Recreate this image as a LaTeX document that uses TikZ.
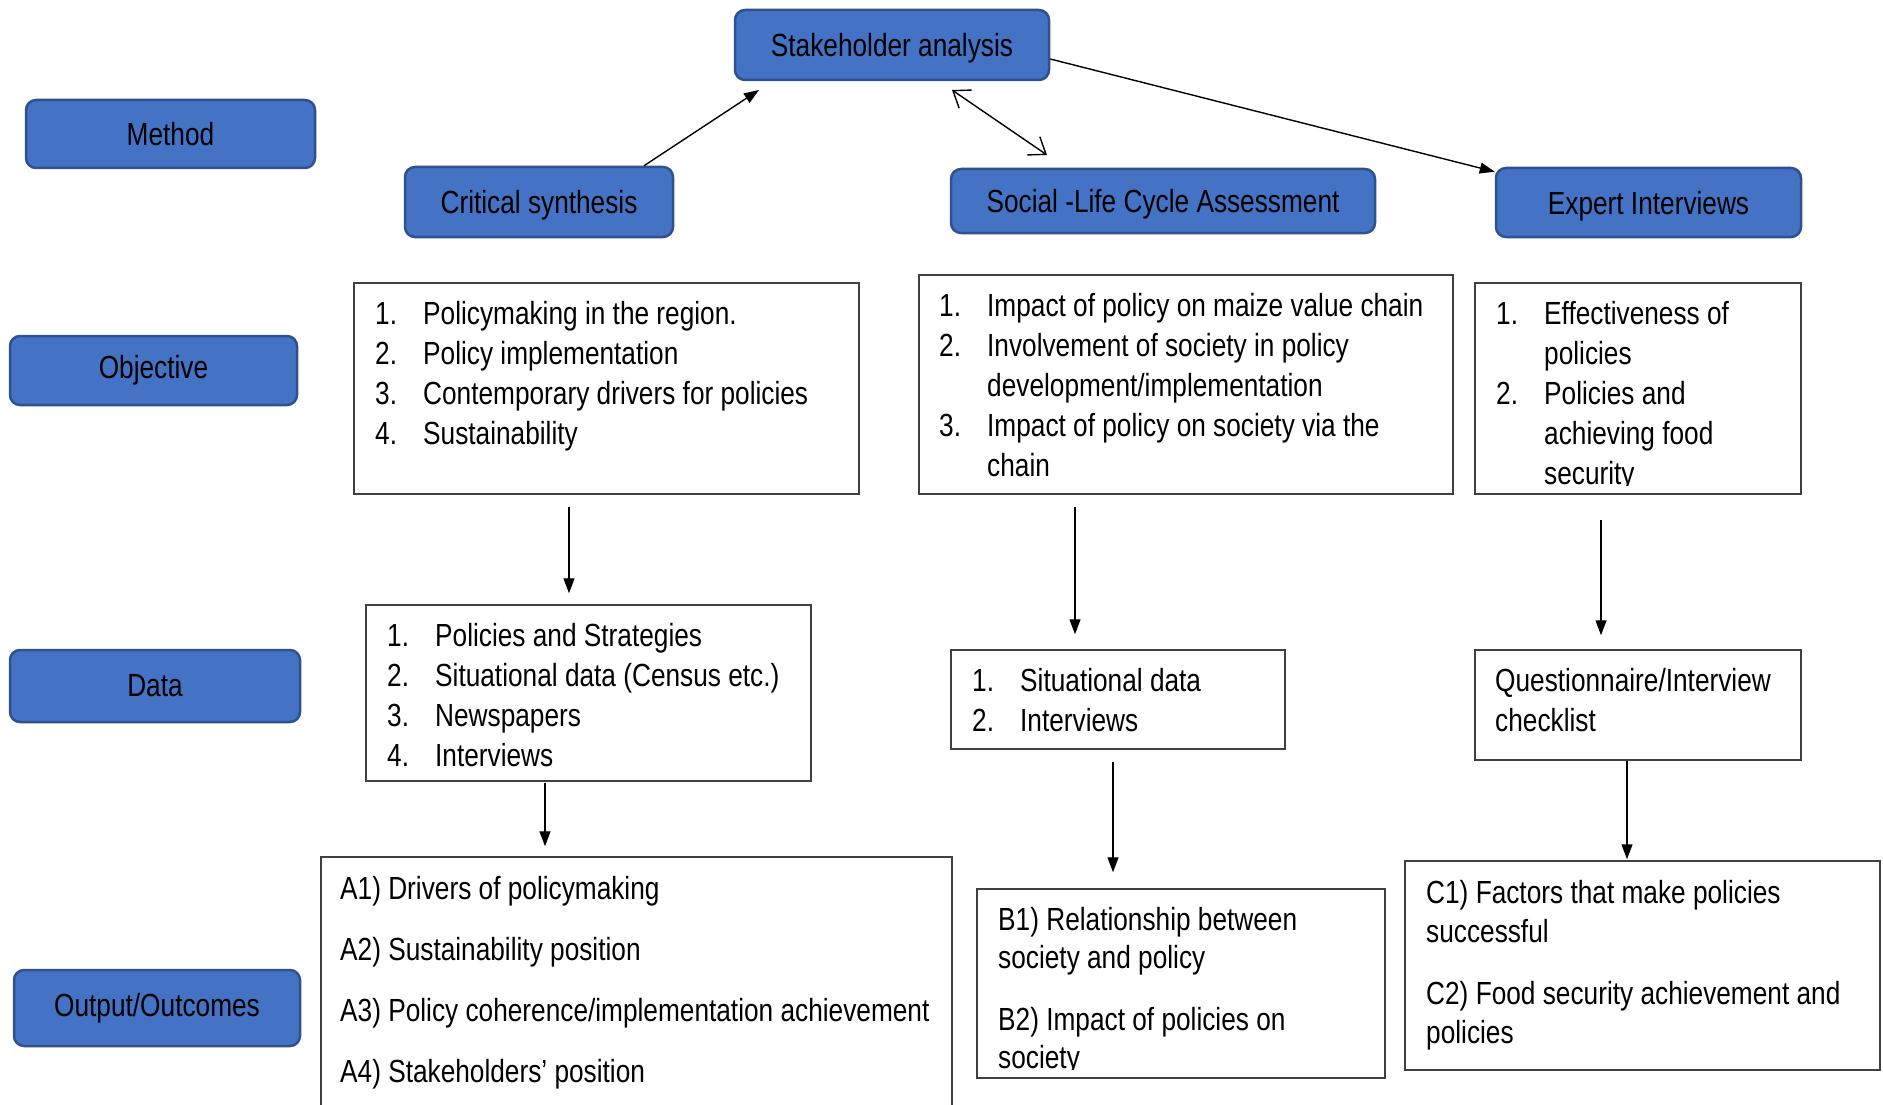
\documentclass[tikz,border=0pt]{standalone}
\usepackage{fontspec}
\setmainfont{Liberation Sans}[FakeStretch=0.82]
\usetikzlibrary{arrows.meta}
\definecolor{boxblue}{HTML}{4472C4}
\definecolor{boxedge}{HTML}{2F528F}
% number column of the numbered lists
\newcommand\itm[1]{\makebox[48pt][l]{#1}}

\begin{document}
\begin{tikzpicture}[x=1pt,y=-1pt,
  lbl/.style={draw=boxedge, fill=boxblue, line width=2.5pt, rounded corners=10pt,
              inner sep=0pt, font=\fontsize{32}{40}\selectfont},
  mlbl/.style={lbl, text depth=0pt},
  panel/.style={draw=black!75, line width=1.5pt, inner sep=0pt},
  txt/.style={anchor=base west, inner sep=0pt, font=\fontsize{32}{40}\selectfont},
  arr/.style={line width=1.4pt, -{Triangle[length=15pt,width=11pt]}},
  dbl/.style={line width=1.4pt,
              {Straight Barb[length=15pt,width=22pt]}-{Straight Barb[length=15pt,width=22pt]}},
]
\clip (0,0) rectangle (1883,1105);
\fill[white] (0,0) rectangle (1883,1105);

% ---- row labels ----
\node[lbl, minimum width=289pt, minimum height=68pt] (method) at (170.5,134) {Method};
\node[lbl, minimum width=287pt, minimum height=69pt] (objective) at (153.5,370.5) {Objective};
\node[lbl, minimum width=290pt, minimum height=72pt] (data) at (155,686) {Data};
\node[lbl, minimum width=286pt, minimum height=76pt] (output) at (157,1008) {Output/Outcomes};

% ---- methods ----
\node[mlbl, minimum width=314pt, minimum height=70pt] (sh) at (892,45) {Stakeholder analysis};
\node[mlbl, minimum width=268pt, minimum height=70pt] (crit) at (539,202) {Critical synthesis};
\node[mlbl, minimum width=424pt, minimum height=64pt] (slca) at (1163,201) {Social -Life Cycle Assessment};
\node[mlbl, minimum width=305pt, minimum height=69pt] (expert) at (1648.5,202.5) {Expert Interviews};

% ---- objective panels ----
\node[panel, minimum width=505pt, minimum height=211pt] (objA) at (606.5,388.5) {};
\node[panel, minimum width=534pt, minimum height=219pt] (objB) at (1186,384.5) {};
\node[panel, minimum width=326pt, minimum height=211pt] (objC) at (1638,388.5) {};

\node[txt] (objAt) at (375,324) {\begin{tabular}[t]{@{}l@{}}
\itm{1.}Policymaking in the region.\\
\itm{2.}Policy implementation\\
\itm{3.}Contemporary drivers for policies\\
\itm{4.}Sustainability
\end{tabular}};

\node[txt] (objBt) at (939,316) {\begin{tabular}[t]{@{}l@{}}
\itm{1.}Impact of policy on maize value chain\\
\itm{2.}Involvement of society in policy\\
\itm{}development/implementation\\
\itm{3.}Impact of policy on society via the\\
\itm{}chain
\end{tabular}};

\begin{scope}
\clip (1480,285) rectangle (1796,485);
\node[txt] (objCt) at (1496,324) {\begin{tabular}[t]{@{}l@{}}
\itm{1.}Effectiveness of\\
\itm{}policies\\
\itm{2.}Policies and\\
\itm{}achieving food\\
\itm{}security
\end{tabular}};
\end{scope}

% ---- data panels ----
\node[panel, minimum width=445pt, minimum height=176pt] (dataA) at (588.5,693) {};
\node[panel, minimum width=334pt, minimum height=99pt] (dataB) at (1118,699.5) {};
\node[panel, minimum width=326pt, minimum height=110pt] (dataC) at (1638,705) {};

\node[txt] (dataAt) at (387,646) {\begin{tabular}[t]{@{}l@{}}
\itm{1.}Policies and Strategies\\
\itm{2.}Situational data (Census etc.)\\
\itm{3.}Newspapers\\
\itm{4.}Interviews
\end{tabular}};

\node[txt] (dataBt) at (972,691) {\begin{tabular}[t]{@{}l@{}}
\itm{1.}Situational data\\
\itm{2.}Interviews
\end{tabular}};

\node[txt] (dataCt) at (1495,691) {\begin{tabular}[t]{@{}l@{}}
Questionnaire/Interview\\
checklist
\end{tabular}};

% ---- output panels ----
\node[panel, minimum width=631pt, minimum height=268pt] (outA) at (636.5,991) {};
\node[panel, minimum width=408pt, minimum height=189pt] (outB) at (1181,983.5) {};
\node[panel, minimum width=475pt, minimum height=209pt] (outC) at (1642.5,965.5) {};

\node[txt, font=\fontsize{32}{61}\selectfont] (outAt) at (340,899) {\begin{tabular}[t]{@{}l@{}}
A1) Drivers of policymaking\\
A2) Sustainability position\\
A3) Policy coherence/implementation achievement\\
A4) Stakeholders’ position
\end{tabular}};

\begin{scope}
\clip (980,892) rectangle (1380,1069);
\node[txt, font=\fontsize{32}{38}\selectfont] (outBt) at (998,930) {\begin{tabular}[t]{@{}l@{}}
B1) Relationship between\\
society and policy\\[24pt]
B2) Impact of policies on\\
society
\end{tabular}};
\end{scope}

\node[txt, font=\fontsize{32}{39}\selectfont] (outCt) at (1426,903) {\begin{tabular}[t]{@{}l@{}}
C1) Factors that make policies\\
successful\\[23pt]
C2) Food security achievement and\\
policies
\end{tabular}};

% ---- connectors ----
\coordinate (csEnd) at (759,90);
\coordinate (dblA) at (952,90);
\coordinate (dblB) at (1047,155);
\draw[arr] (crit.north -| 644,0) -- (csEnd);
\draw[dbl] (dblA) -- (dblB);
\draw[arr] (sh.east |- 0,59) -- ([yshift=-5pt]expert.north west);

\draw[arr, shorten <=12pt, shorten >=11pt] (objA.south -| 569,0) -- (dataA.north -| 569,0);
\draw[arr, shorten <=12pt, shorten >=15pt] (objB.south -| 1075,0) -- (dataB.north -| 1075,0);
\draw[arr, shorten <=25pt, shorten >=14pt] (objC.south -| 1601,0) -- (dataC.north -| 1601,0);

\draw[arr, shorten <=1pt, shorten >=10pt] (dataA.south -| 545,0) -- (outA.north -| 545,0);
\draw[arr, shorten <=12pt, shorten >=16pt] (dataB.south -| 1113,0) -- (outB.north -| 1113,0);
\draw[arr, shorten >=1pt] (dataC.south -| 1627,0) -- (outC.north -| 1627,0);
\end{tikzpicture}
\end{document}
